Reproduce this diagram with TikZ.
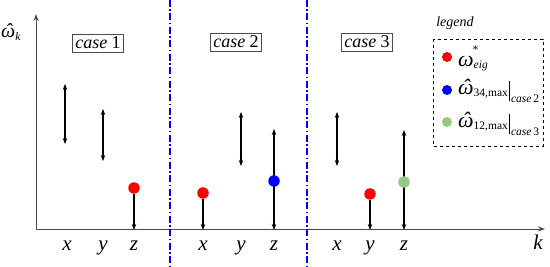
\documentclass[tikz,border=0pt]{standalone}
\usepackage{fontspec}
\setmainfont{Liberation Serif}
\usetikzlibrary{arrows.meta}
\definecolor{dotgreen}{RGB}{150,200,130}
\newcommand{\smallsub}{\fontsize{11.5}{12}\selectfont}
\newcommand{\omhat}{{\ooalign{\textit{ω}\cr\hidewidth\kern1.5pt\textit{ˆ}\hidewidth\cr}}}
\begin{document}
\begin{tikzpicture}[x=1pt,y=-1pt,
  axis/.style={draw=black!70,line width=0.9pt,-{Stealth[length=7pt,width=5pt]}},
  dbl/.style={black,line width=1.1pt,{Stealth[length=6pt,width=4.5pt]}-{Stealth[length=6pt,width=4.5pt]}},
  sgl/.style={black,line width=1.1pt,-{Stealth[length=6pt,width=4.5pt]}},
  sep/.style={blue,line width=1.1pt,dash pattern=on 7pt off 2.5pt on 1.5pt off 2.5pt},
  casebox/.style={draw=black!70,line width=0.8pt,inner sep=3pt,font=\fontsize{18}{20}\selectfont},
  lab/.style={font=\fontsize{21}{23}\selectfont\itshape,anchor=base,inner sep=0pt},
  dot/.style={circle,inner sep=0pt,minimum size=11.5pt},
  legtext/.style={anchor=base west,font=\fontsize{22}{24}\selectfont,inner sep=0pt},
]
\useasboundingbox (0,0) rectangle (550,267);
% axes
\coordinate (O) at (36,229);
\coordinate (ytop) at (36,14);
\coordinate (xend) at (545,229);
\draw[axis] (O) -- (ytop);
\draw[axis] (O) -- (xend);
\node[legtext,font=\fontsize{20}{22}\selectfont] (wk) at (1,38) {\omhat\raisebox{-3pt}{\smallsub\textit{k}}};
\node[lab] (k) at (538,250) {k};
% separators
\coordinate (s1t) at (170,0); \coordinate (s1b) at (170,267);
\coordinate (s2t) at (307,0); \coordinate (s2b) at (307,267);
\draw[sep] (s1t) -- (s1b);
\draw[sep] (s2t) -- (s2b);
% case boxes
\node[casebox] (c1) at (98,43) {\textit{case} 1};
\node[casebox] (c2) at (236,42) {\textit{case} 2};
\node[casebox] (c3) at (367,42) {\textit{case} 3};
% tick labels
\foreach \n/\xx/\lbl in {a/67/x,b/103/y,c/134/z,d/203/x,e/241/y,f/274/z,g/337/x,h/370/y,i/404/z}
  \node[lab] (t\n) at (\xx,251) {\lbl};
% case 1 arrows
\coordinate (a1) at (65,84); \coordinate (a2) at (65,144);
\draw[dbl] (a1) -- (a2);
\coordinate (b1) at (103,109); \coordinate (b2) at (103,161);
\draw[dbl] (b1) -- (b2);
\node[dot,fill=red] (r1) at (134,188) {};
\coordinate (c1b) at (134,230);
\draw[sgl] (r1.south) -- (c1b);
% case 2
\node[dot,fill=red] (r2) at (203,193) {};
\coordinate (d1b) at (203,230);
\draw[sgl] (r2.south) -- (d1b);
\coordinate (e1) at (241,112); \coordinate (e2) at (241,166);
\draw[dbl] (e1) -- (e2);
\coordinate (f1) at (274,129); \coordinate (f2) at (274,230);
\draw[dbl] (f1) -- (f2);
\node[dot,fill=blue] (bl) at (274,181) {};
% case 3
\coordinate (g1) at (337,112); \coordinate (g2) at (337,166);
\draw[dbl] (g1) -- (g2);
\node[dot,fill=red] (r3) at (370,194) {};
\coordinate (h1b) at (370,230);
\draw[sgl] (r3.south) -- (h1b);
\coordinate (i1) at (404,130); \coordinate (i2) at (404,230);
\draw[dbl] (i1) -- (i2);
\node[dot,fill=dotgreen] (gr) at (404,182) {};
% legend
\node[font=\fontsize{14}{16}\selectfont\itshape] (legt) at (455,23) {legend};
\coordinate (L1) at (433,39); \coordinate (L2) at (543,146);
\draw[dashed,line width=0.9pt] (L1) rectangle (L2);
\node[dot,fill=red,minimum size=10pt] (ld1) at (447,57) {};
\node[dot,fill=blue,minimum size=10pt] (ld2) at (447,90) {};
\node[dot,fill=dotgreen,minimum size=10pt] (ld3) at (447,122) {};
\node[legtext] (lt1) at (458,67) {\textit{ω}\raisebox{-2pt}{\smallsub\textit{eig}}};
\node[anchor=base west,inner sep=0pt,font=\smallsub] (star) at (472.5,54) {*};
\node[legtext] (lt2) at (458,95) {\omhat\raisebox{-2pt}{\smallsub 34,max}\hspace{1pt}\rule[-6pt]{0.7pt}{20pt}\hspace{1.5pt}\raisebox{-8pt}{\smallsub\textit{case}\,2}};
\node[legtext] (lt3) at (458,128) {\omhat\raisebox{-2pt}{\smallsub 12,max}\hspace{1pt}\rule[-6pt]{0.7pt}{20pt}\hspace{1.5pt}\raisebox{-8pt}{\smallsub\textit{case}\,3}};
\end{tikzpicture}
\end{document}
